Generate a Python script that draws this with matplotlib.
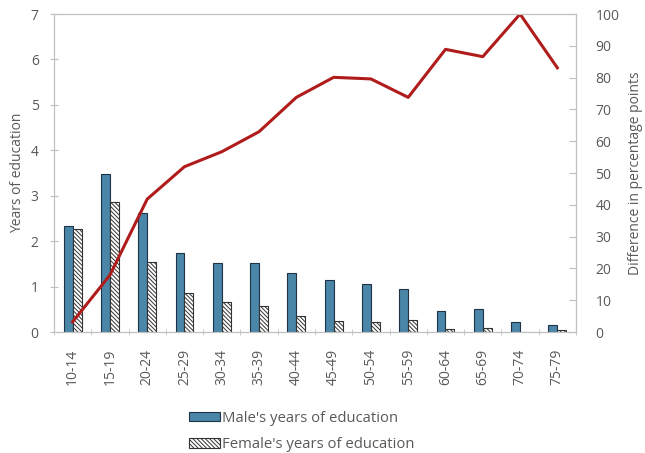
import matplotlib
matplotlib.use('agg')
import matplotlib.pyplot as plt
import numpy as np

age_groups = ['10-14', '15-19', '20-24', '25-29', '30-34', '35-39', '40-44',
              '45-49', '50-54', '55-59', '60-64', '65-69', '70-74', '75-79']
male_years = [2.33, 3.49, 2.63, 1.75, 1.53, 1.51, 1.29, 1.14, 1.06, 0.95, 0.46, 0.50, 0.23, 0.15]
female_years = [2.26, 2.86, 1.54, 0.85, 0.67, 0.57, 0.35, 0.24, 0.23, 0.26, 0.06, 0.08, 0.0, 0.04]
difference_pp = [3.2, 17.9, 41.8, 52.0, 56.7, 63.0, 73.8, 80.1, 79.6, 73.8, 88.9, 86.6, 100.0, 83.1]

plt.rcParams['font.family'] = ['Open Sans', 'DejaVu Sans']
plt.rcParams['hatch.linewidth'] = 0.7
grey = '#595959'
spine_col = '#c0c0c0'

fig = plt.figure(figsize=(6.45, 4.53), dpi=100)
ax = fig.add_axes([0.0837, 0.267, 0.8093, 0.702])

x = np.arange(len(age_groups))
w = 0.24
ax.bar(x - w / 2, male_years, w, color='#4a86a8', edgecolor='#1f3347', linewidth=0.8,
       label="Male's years of education")
ax.bar(x + w / 2, female_years, w, color='white', edgecolor='#333333', linewidth=0.8,
       hatch='\\\\\\\\\\\\\\\\', label="Female's years of education")

ax.set_xlim(-0.5, len(age_groups) - 0.5)
ax.set_ylim(0, 7)
ax.set_yticks(range(0, 8))
ax.set_ylabel('Years of education', color=grey, fontsize=10, labelpad=4)
ax.set_xticks(x)
ax.set_xticklabels(age_groups, rotation=90, color=grey, fontsize=10)
ax.set_xticks(np.arange(-0.5, len(age_groups)), minor=True)
ax.tick_params(axis='x', which='major', length=0, pad=12)
ax.tick_params(axis='x', which='minor', length=4, color=spine_col, direction='inout')
ax.tick_params(axis='y', length=6, direction='inout', color=spine_col,
               labelcolor=grey, labelsize=10, pad=8)
for s in ax.spines.values():
    s.set_color(spine_col)

ax2 = ax.twinx()
ax2.plot(x, difference_pp, color='#b01c1c', linewidth=2.2)
ax2.set_ylim(0, 100)
ax2.set_yticks(range(0, 101, 10))
ax2.tick_params(axis='y', length=5, direction='in', color=spine_col,
                labelcolor=grey, labelsize=10, pad=14)
ax2.set_ylabel('Difference in percentage points', color=grey, fontsize=10, labelpad=6)
for s in ax2.spines.values():
    s.set_color(spine_col)

fig.legend(loc='upper left', bbox_to_anchor=(0.284, 0.106), frameon=False,
           fontsize=10.7, labelcolor=grey, handlelength=2.1, handleheight=0.6,
           handletextpad=0.1, labelspacing=0.75, borderaxespad=0)

plt.savefig('out.png', dpi=100)
plt.close()
